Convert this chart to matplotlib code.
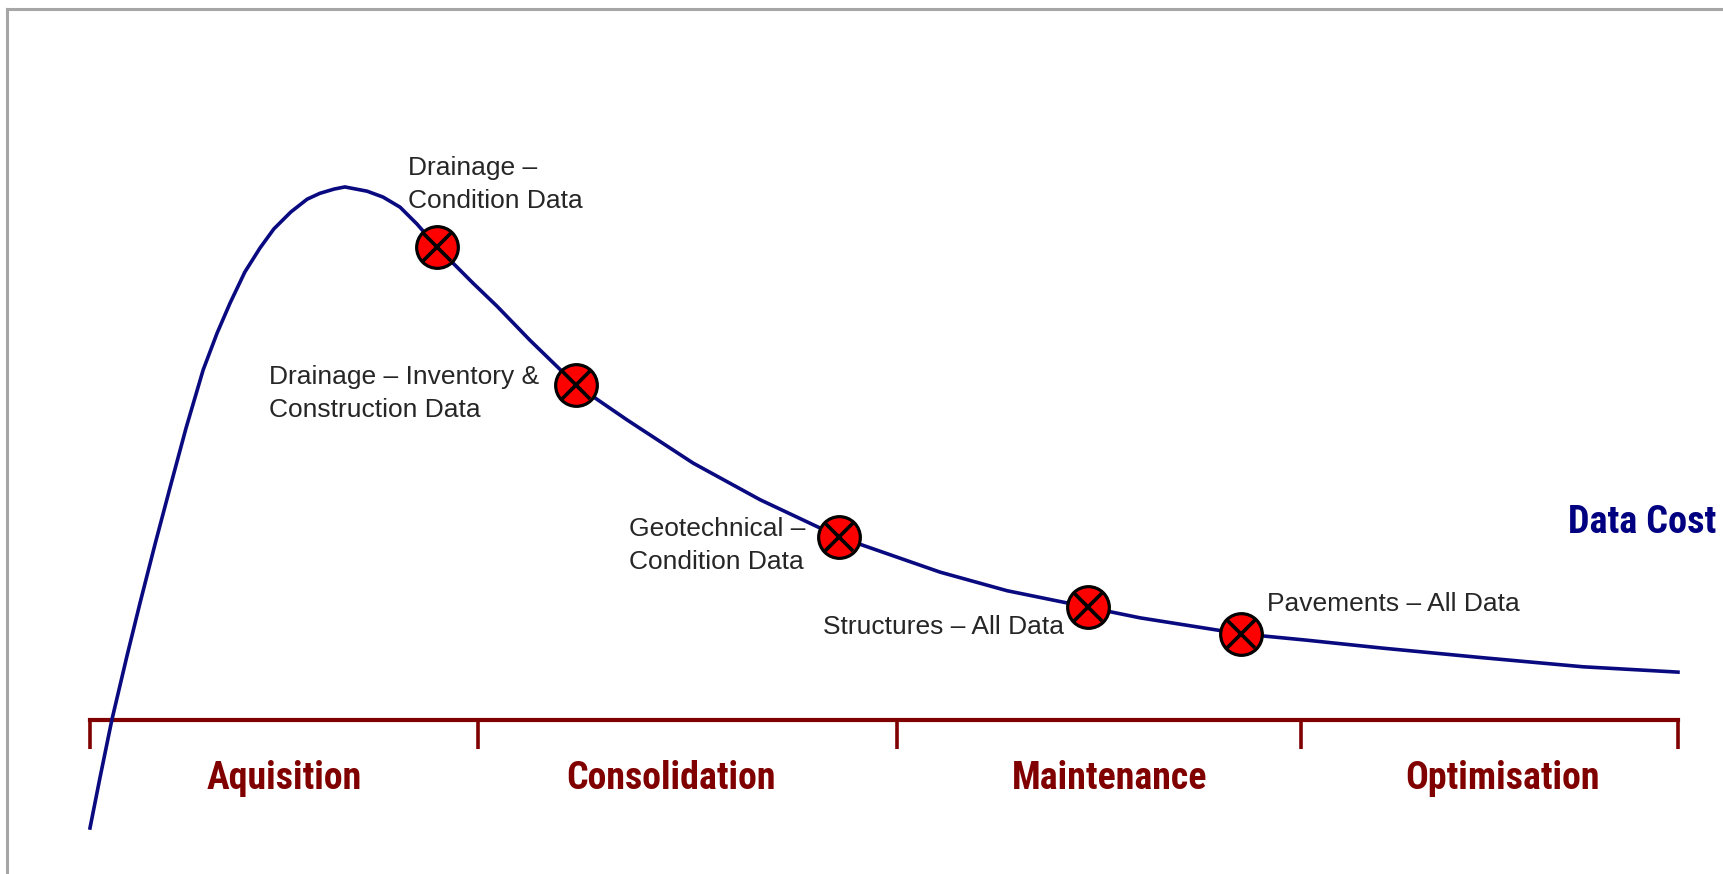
import matplotlib
matplotlib.use("Agg")
import matplotlib.pyplot as plt
from matplotlib.lines import Line2D
from matplotlib import font_manager as fm

# data cost curve over the data life cycle (x: phase units 0..4, y: relative cost, peak = 100)
curve_x = [0.000, 0.025, 0.055, 0.093, 0.126, 0.164, 0.202, 0.242, 0.285, 0.320,
           0.353, 0.390, 0.428, 0.463, 0.506, 0.547, 0.579, 0.615, 0.642, 0.698,
           0.738, 0.781, 0.824, 0.874, 0.965, 1.025, 1.108, 1.224, 1.353, 1.519,
           1.688, 1.887, 2.141, 2.310, 2.514, 2.645, 2.899, 3.065, 3.257, 3.509,
           3.761, 4.000]
curve_y = [-20.3, -10.9, 0.0, 12.0, 22.0, 33.1, 43.8, 54.9, 65.8, 72.7,
           78.4, 84.2, 88.7, 92.3, 95.5, 97.9, 99.0, 99.8, 100.2, 99.4,
           98.3, 96.4, 93.2, 88.9, 82.1, 77.8, 71.4, 63.0, 56.4, 48.3,
           41.4, 34.4, 27.8, 24.3, 21.2, 19.2, 16.2, 15.0, 13.5, 11.7,
           10.0, 9.0]

# data sets placed on the curve
asset_labels = ["Drainage \u2013\nCondition Data",
                "Drainage \u2013 Inventory &\nConstruction Data",
                "Geotechnical \u2013\nCondition Data",
                "Structures \u2013 All Data",
                "Pavements \u2013 All Data"]
asset_x = [0.874, 1.224, 1.887, 2.514, 2.899]
asset_y = [88.9, 63.0, 34.4, 21.2, 16.2]
# label offsets from the marker (pixels, to the baseline of the last line)
label_dx = [-29, -307, -210, -265, 26]
label_dy = [39, -32, -32, -27, 23]

phases = ["Aquisition", "Consolidation", "Maintenance", "Optimisation"]
phase_label_x = [0.489, 1.463, 2.569, 3.557]
phase_ticks = [0.0, 0.977, 2.033, 3.050, 4.0]
phase_widths = [152, 213, 196, 194]   # rendered width in the reference, px

dark_red = "#800000"
navy = "#0a0a80"


def narrow_bold_font():
    # look for a condensed bold sans face, fall back to a normal bold one
    wanted = ["Liberation Sans Narrow", "Arial Narrow", "Roboto Condensed",
              "Open Sans Condensed", "DejaVu Sans Condensed", "Noto Sans Condensed"]
    cands = []
    for f in fm.fontManager.ttflist:
        w = f.weight if isinstance(f.weight, int) else fm.weight_dict.get(f.weight, 400)
        narrow = ("Narrow" in f.name or "Condensed" in f.name
                  or f.stretch in ("condensed", "semi-condensed", "extra-condensed")
                  or "Condensed" in f.fname or "Narrow" in f.fname)
        if narrow and w >= 600 and "Oblique" not in f.fname and "Italic" not in f.fname:
            cands.append(f)
    for name in wanted:
        for f in cands:
            if f.name == name or name.replace(" ", "") in f.fname.replace("-", ""):
                return fm.FontProperties(fname=f.fname)
    if cands:
        return fm.FontProperties(fname=cands[0].fname)
    return fm.FontProperties(family=["Liberation Sans", "DejaVu Sans"], weight="bold")


fig = plt.figure(figsize=(17.23, 8.74), dpi=100)
ax = fig.add_axes([0, 0, 1, 1])
ax.set_xlim(-0.2267, 4.1134)
ax.set_ylim(-28.95, 135.34)
ax.axis("off")

# gray frame (top and left edges only visible)
fig.add_artist(Line2D([7 / 1723, 1], [1 - 9 / 874, 1 - 9 / 874], transform=fig.transFigure,
                      color="#a6a6a6", lw=2.2))
fig.add_artist(Line2D([7 / 1723, 7 / 1723], [0, 1 - 9 / 874], transform=fig.transFigure,
                      color="#a6a6a6", lw=2.2))

# phase axis
ax.plot([phase_ticks[0], phase_ticks[-1]], [0, 0], color=dark_red, lw=3,
        solid_capstyle="projecting", zorder=2)
ax.vlines(phase_ticks, -5.4, 0, color=dark_red, lw=2.6, zorder=2)

bold_fp = narrow_bold_font()
phase_texts = []
for name, px in zip(phases, phase_label_x):
    t = ax.text(px, -13.0, name, ha="center", va="baseline", color=dark_red,
                fontproperties=bold_fp.copy())
    t.set_fontsize(30)
    phase_texts.append(t)

# cost curve
ax.plot(curve_x, curve_y, color=navy, lw=2.6, zorder=3, solid_joinstyle="round")
cost_txt = ax.text((1568 - 90) / 397, (720 - 533) / 5.32, "Data Cost", ha="left",
                   va="baseline", color="#000080", fontproperties=bold_fp.copy())
cost_txt.set_fontsize(30)

# scale the bold labels so their widths match the reference
fig.canvas.draw()
r = fig.canvas.get_renderer()
got = sum(t.get_window_extent(r).width for t in phase_texts)
size = 30 * sum(phase_widths) / got
for t in phase_texts:
    t.set_fontsize(size)
cost_txt.set_fontsize(30 * 148 / cost_txt.get_window_extent(r).width)

# markers
ax.plot(asset_x, asset_y, "o", ms=30, mfc="#ff0000", mec="black", mew=2.3, zorder=4)
ax.plot(asset_x, asset_y, "x", ms=20, color="black", mew=2.6, zorder=5)

for lab, x, y, dx, dy in zip(asset_labels, asset_x, asset_y, label_dx, label_dy):
    ax.annotate(lab, (x, y), xytext=(dx, dy), textcoords="offset pixels",
                ha="left", va="baseline", fontsize=19, color="#262626",
                family=["Liberation Sans", "DejaVu Sans"], linespacing=1.48, zorder=6)

fig.savefig("out.png", dpi=100, facecolor="white")
